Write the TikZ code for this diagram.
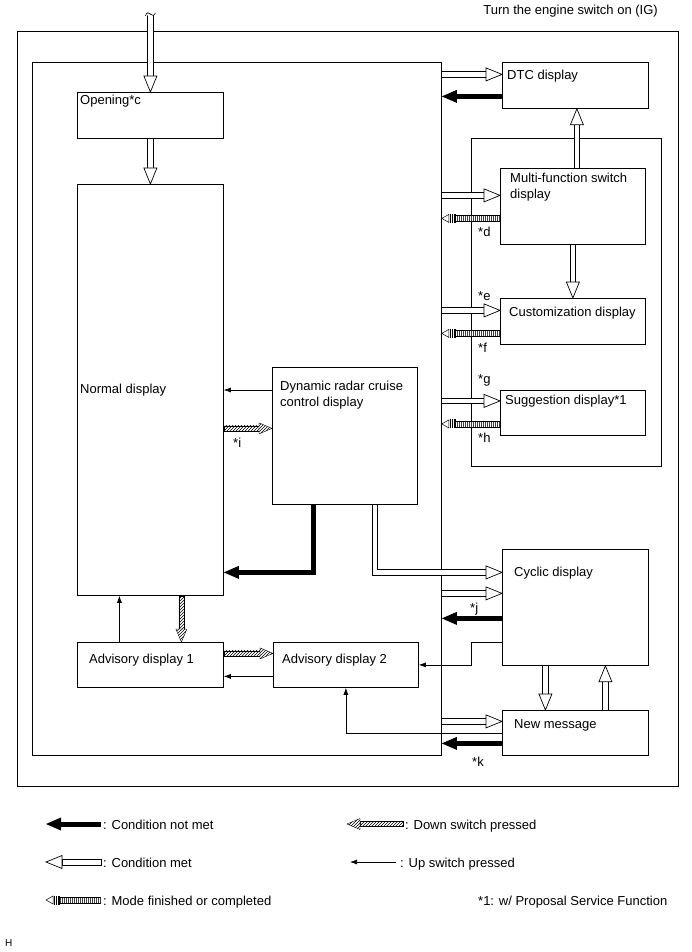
\documentclass[tikz,border=0pt]{standalone}
\usepackage{fontspec}
\setmainfont{Liberation Sans}
\usetikzlibrary{calc, arrows.meta, patterns}

% #1 tail, #2 tip
\newcommand{\metarrow}[2]{%
  \path #1 coordinate (tl) #2 coordinate (tp);
  \path ($(tp)!16pt!(tl)$) coordinate (hb);
  \path ($(hb)!6.5pt!90:(tp)$) coordinate (h1) ($(hb)!6.5pt!-90:(tp)$) coordinate (h2)
    ($(hb)!2.9pt!90:(tp)$) coordinate (s1) ($(hb)!2.9pt!-90:(tp)$) coordinate (s2)
    ($(tl)!2.9pt!-90:(hb)$) coordinate (s3) ($(tl)!2.9pt!90:(hb)$) coordinate (s4);
  \draw[methead] (s1) -- (s4) -- (s3) -- (s2) -- cycle;
  \draw[methead] (tp) -- (h1) -- (h2) -- cycle;
}
% #1 shaft before the last bend, #2 point before the tip, #3 tip
\newcommand{\notmetarrow}[3]{%
  \path #2 coordinate (pv) #3 coordinate (tp);
  \path ($(tp)!15pt!(pv)$) coordinate (hb);
  \path ($(hb)!6.5pt!90:(tp)$) coordinate (h1) ($(hb)!6.5pt!-90:(tp)$) coordinate (h2);
  \draw[notmetshaft] #1 (pv) -- ($(hb)!1pt!(tp)$);
  \fill (tp) -- (h1) -- (h2) -- cycle;
}
% #1 tail, #2 tip
\newcommand{\modearrow}[2]{%
  \path #1 coordinate (tl) #2 coordinate (tp);
  \path ($(tp)!7pt!(tl)$) coordinate (hb) ($(tp)!13.5pt!(tl)$) coordinate (sb);
  \path ($(hb)!4pt!90:(tp)$) coordinate (h1) ($(hb)!4pt!-90:(tp)$) coordinate (h2);
  \draw[modeshaft] (sb) -- (tl);
  \draw[line width=.5pt] ($(sb)!3pt!90:(tl)$) -- ($(tl)!3pt!-90:(sb)$)
    ($(sb)!3pt!-90:(tl)$) -- ($(tl)!3pt!90:(sb)$);
  \foreach \bpos in {8.4,10.2,12,13.5} {
    \path ($(tp)!\bpos pt!(tl)$) coordinate (bb);
    \draw[line width=.5pt] ($(bb)!4.5pt!90:(tp)$) -- ($(bb)!4.5pt!-90:(tp)$);
  }
  \draw[line width=.5pt, fill=white] (tp) -- (h1) -- (h2) -- cycle;
}
\newcommand{\hatcharrow}[2]{%
  \path #1 coordinate (tl) #2 coordinate (tp);
  \path ($(tp)!13pt!(tl)$) coordinate (hb);
  \path ($(hb)!5.5pt!90:(tp)$) coordinate (h1) ($(hb)!5.5pt!-90:(tp)$) coordinate (h2)
    ($(hb)!2.5pt!90:(tp)$) coordinate (s1) ($(hb)!2.5pt!-90:(tp)$) coordinate (s2)
    ($(tl)!2.5pt!-90:(hb)$) coordinate (s3) ($(tl)!2.5pt!90:(hb)$) coordinate (s4);
  \draw[hatchbody] (s1) -- (s4) -- (s3) -- (s2) -- cycle;
  \draw[hatchbody] (tp) -- (h1) -- (h2) -- cycle;
}

\begin{document}
\begin{tikzpicture}[x=1pt, y=-1pt,
    box/.style={draw, line width=.8pt, anchor=north west, inner sep=0pt},
    txt/.style={inner sep=0pt, anchor=base west, font=\fontsize{13}{16.5}\selectfont},
    lbl/.style={txt},
    methead/.style={draw, fill=white, line width=.7pt},
    notmetshaft/.style={line width=5pt},
    modeshaft/.style={line width=5.6pt, dash pattern=on .5pt off 1.5pt, black!75},
    hatchbody/.style={draw, line width=.4pt, preaction={fill=white}, pattern=north east lines},
    upsw/.style={-{Latex[length=7pt,width=5pt]}, line width=.6pt}]
  \useasboundingbox (0,0) rectangle (691,952);

  \node[box, minimum width=661pt, minimum height=755pt] (outer) at (17,31) {};
  \node[box, minimum width=409pt, minimum height=693pt] (main) at (32,62) {};
  \node[box, minimum width=190pt, minimum height=328pt] (grp) at (471,138) {};

  \node[box, minimum width=146pt, minimum height=46pt] (open) at (77,92) {};
  \node[box, minimum width=146pt, minimum height=411pt] (normal) at (77,184) {};
  \node[box, minimum width=145pt, minimum height=137pt] (drc) at (272,367) {};
  \node[box, minimum width=146pt, minimum height=45pt] (adv1) at (77,642) {};
  \node[box, minimum width=145pt, minimum height=45pt] (adv2) at (273,642) {};
  \node[box, minimum width=146pt, minimum height=46pt] (dtc) at (502,62) {};
  \node[box, minimum width=145pt, minimum height=76pt] (multi) at (500,168) {};
  \node[box, minimum width=145pt, minimum height=46pt] (custom) at (500,298) {};
  \node[box, minimum width=145pt, minimum height=45pt] (sugg) at (500,390) {};
  \node[box, minimum width=146pt, minimum height=116pt] (cyclic) at (502,549) {};
  \node[box, minimum width=146pt, minimum height=45pt] (newmsg) at (502,710) {};

  \node[txt, anchor=base east] (title) at (658,15) {Turn the engine switch on (IG)};
  \node[txt] (opentxt) at ([shift={(3,13)}]open.north west) {Opening*c};
  \node[txt] (normaltxt) at ([shift={(3,209)}]normal.north west) {Normal display};
  \node[txt, anchor=north west, align=left] (drctxt) at ([shift={(8,13.6)}]drc.north west)
    {Dynamic radar cruise\\control display};
  \node[txt] (adv1txt) at ([shift={(12,21)}]adv1.north west) {Advisory display 1};
  \node[txt] (adv2txt) at ([shift={(9,21)}]adv2.north west) {Advisory display 2};
  \node[txt] (dtctxt) at ([shift={(5,18)}]dtc.north west) {DTC display};
  \node[txt, anchor=north west, align=left] (multitxt) at ([shift={(10,4.6)}]multi.north west)
    {Multi-function switch\\display};
  \node[txt] (customtxt) at ([shift={(9,18)}]custom.north west) {Customization display};
  \node[txt] (suggtxt) at ([shift={(5,14)}]sugg.north west) {Suggestion display*1};
  \node[txt] (cyclictxt) at ([shift={(12,27)}]cyclic.north west) {Cyclic display};
  \node[txt] (newmsgtxt) at ([shift={(12,18)}]newmsg.north west) {New message};

  % start and opening
  \coordinate (ign) at ([yshift=78pt]open.north);
  \metarrow{(ign)}{(open.north)}
  \draw[line width=.6pt, fill=white] ($(ign)+(-5,2)$) .. controls ($(ign)+(-4,-2)$) and ($(ign)+(-1,-2)$) .. (ign)
    .. controls ($(ign)+(1,2)$) and ($(ign)+(4,2)$) .. ($(ign)+(5,-1)$);
  \metarrow{(open.south)}{(normal.north)}

  % DTC display
  \coordinate (dtcin) at ([yshift=11pt]dtc.west);
  \metarrow{(main.east |- dtcin)}{(dtcin)}
  \coordinate (dtcout) at ([yshift=-11pt]dtc.west);
  \notmetarrow{}{(dtcout)}{(main.east |- dtcout)}
  \coordinate (mfup) at ([xshift=4pt]multi.north);
  \metarrow{(mfup)}{(mfup |- dtc.south)}

  % multi-function, customization, suggestion
  \coordinate (mfin) at ([yshift=11pt]multi.west);
  \metarrow{(main.east |- mfin)}{(mfin)}
  \coordinate (mfout) at ([yshift=-12pt]multi.west);
  \modearrow{(mfout)}{(main.east |- mfout)}
  \node[lbl] (ld) at ([xshift=-22pt,yshift=-18pt]mfout) {*d};
  \metarrow{(multi.south)}{(custom.north)}
  \coordinate (cuin) at ([yshift=11pt]custom.west);
  \metarrow{(main.east |- cuin)}{(cuin)}
  \node[lbl] (le) at ([xshift=-22pt,yshift=10pt]cuin) {*e};
  \coordinate (cuout) at ([yshift=-12pt]custom.west);
  \modearrow{(cuout)}{(main.east |- cuout)}
  \node[lbl] (lf) at ([xshift=-22pt,yshift=-19pt]cuout) {*f};
  \coordinate (sgin) at ([yshift=12pt]sugg.west);
  \metarrow{(main.east |- sgin)}{(sgin)}
  \node[lbl] (lg) at ([xshift=-22pt,yshift=17pt]sgin) {*g};
  \coordinate (sgout) at ([yshift=-11pt]sugg.west);
  \modearrow{(sgout)}{(main.east |- sgout)}
  \node[lbl] (lh) at ([xshift=-22pt,yshift=-19pt]sgout) {*h};

  % dynamic radar cruise control
  \coordinate (drcup) at ([yshift=-23pt]drc.north west);
  \draw[upsw] (drcup) -- (normal.east |- drcup);
  \coordinate (drcdn) at ([yshift=7.5pt]drc.west);
  \hatcharrow{(normal.east |- drcdn)}{(drcdn)}
  \node[lbl] (li) at ([xshift=-39pt,yshift=-19pt]drcdn) {*i};
  \coordinate (cyin) at ([yshift=35pt]cyclic.west);
  \coordinate (drcbk) at ([xshift=-31pt]drc.south);
  \notmetarrow{(drcbk) --}{(drcbk |- cyin)}{(normal.east |- cyin)}
  \coordinate (drcok) at ([xshift=30pt]drc.south);
  \coordinate (okc) at (drcok |- cyin);
  \coordinate (okb) at ([xshift=-16pt]cyin);
  \draw[methead] ($(drcok)+(-2.9,0)$) -- ($(okc)+(-2.9,2.9)$) -- ($(okb)+(0,2.9)$)
    -- ($(okb)+(0,-2.9)$) -- ($(okc)+(2.9,-2.9)$) -- ($(drcok)+(2.9,0)$) -- cycle;
  \draw[methead] (cyin) -- ($(okb)+(0,-6.5)$) -- ($(okb)+(0,6.5)$) -- cycle;

  % cyclic display
  \coordinate (cyin2) at ([yshift=14pt]cyclic.west);
  \metarrow{(main.east |- cyin2)}{(cyin2)}
  \coordinate (cyout) at ([yshift=-11pt]cyclic.west);
  \notmetarrow{}{(cyout)}{(main.east |- cyout)}
  \node[lbl] (lj) at ([xshift=-32pt,yshift=6pt]cyout) {*j};
  \coordinate (cyup) at ([yshift=-35pt]cyclic.west);
  \draw[upsw] (cyup) -- (cyup -| grp.west) |- (adv2.east);
  \coordinate (cydn) at ([xshift=-30pt]cyclic.south);
  \metarrow{(cydn)}{(cydn |- newmsg.north)}
  \coordinate (nmup) at ([xshift=30pt]newmsg.north);
  \metarrow{(nmup)}{(nmup |- cyclic.south)}

  % new message
  \coordinate (nmin) at ([yshift=11.5pt]newmsg.west);
  \metarrow{(main.east |- nmin)}{(nmin)}
  \draw[upsw] (newmsg.west) -| (adv2.south);
  \coordinate (nmout) at ([yshift=-10.5pt]newmsg.west);
  \notmetarrow{}{(nmout)}{(main.east |- nmout)}
  \node[lbl] (lk) at ([xshift=-30pt,yshift=-23pt]nmout) {*k};

  % normal and advisory displays
  \coordinate (adup) at ([xshift=-31pt]adv1.north);
  \draw[upsw] (adup) -- (adup |- normal.south);
  \coordinate (addn) at ([xshift=31pt]normal.south);
  \hatcharrow{(addn)}{(addn |- adv1.north)}
  \coordinate (a2in) at ([yshift=11.5pt]adv2.west);
  \hatcharrow{(adv1.east |- a2in)}{(a2in)}
  \coordinate (a2out) at ([yshift=-11.5pt]adv2.west);
  \draw[upsw] (a2out) -- (adv1.east |- a2out);

  % legend
  \node[txt] (lgnot) at (103,829) {: Condition not met};
  \notmetarrow{}{([shift={(-2,-5)}]lgnot.base west)}{([shift={(-57,-5)}]lgnot.base west)}
  \node[txt] (lgmet) at (103,867) {: Condition met};
  \metarrow{([shift={(-2,-5)}]lgmet.base west)}{([shift={(-57,-5)}]lgmet.base west)}
  \node[txt] (lgmode) at (103,905) {: Mode finished or completed};
  \modearrow{([shift={(-2,-5)}]lgmode.base west)}{([shift={(-57,-5)}]lgmode.base west)}
  \node[txt] (lgdown) at (405,829) {: Down switch pressed};
  \hatcharrow{([shift={(-2,-5)}]lgdown.base west)}{([shift={(-58,-5)}]lgdown.base west)}
  \node[txt] (lgup) at (400,867) {: Up switch pressed};
  \draw[upsw] ([shift={(-4,-5)}]lgup.base west) -- ([shift={(-50,-5)}]lgup.base west);
  \node[txt] (lgstar) at (478,905) {*1: w/ Proposal Service Function};
  \node[txt, font=\fontsize{10}{12}\selectfont] (hmark) at (5,946) {H};
\end{tikzpicture}
\end{document}
